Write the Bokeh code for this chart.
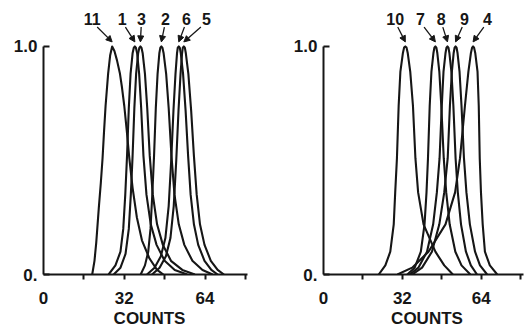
from bokeh.plotting import figure
from bokeh.layouts import row
from bokeh.models import FixedTicker, Arrow, NormalHead
from bokeh.core.properties import value
from bokeh.embed import file_html
from bokeh.resources import INLINE

# ---------------- data ----------------
# shared level profile for most curves (normalised counts)
# Left panel
c11_x = [19.3, 20.2, 20.9, 21.9, 22.7, 23.4, 24.0, 24.6, 25.6, 26.4, 27.2, 28.1, 29.1, 30.3, 31.1, 32.0, 33.0, 34.0, 35.3, 37.0, 39.0, 42.0, 45.0, 47.5]
c11_y = [0.0, 0.06, 0.14, 0.29, 0.40, 0.51, 0.63, 0.74, 0.88, 0.96, 1.0, 0.98, 0.94, 0.88, 0.82, 0.74, 0.63, 0.51, 0.38, 0.25, 0.15, 0.07, 0.02, 0.0]

c1_x = [25.8, 28.5, 30.5, 31.6, 32.4, 33.1, 33.8, 34.5, 35.3, 35.8, 36.2, 36.6, 37.1, 37.9, 38.7, 39.6, 40.8, 42.5, 44.8, 48.0, 52.0, 57.0]
c1_y = [0.0, 0.04, 0.10, 0.20, 0.35, 0.52, 0.73, 0.88, 0.97, 0.995, 1.0, 0.995, 0.97, 0.88, 0.73, 0.52, 0.35, 0.22, 0.13, 0.06, 0.02, 0.0]

c3_x = [27.8, 30.5, 32.5, 33.8, 34.6, 35.3, 36.0, 36.7, 37.5, 38.0, 38.4, 38.8, 39.3, 40.2, 41.1, 42.1, 43.3, 45.0, 47.3, 50.5, 55.0, 60.0]
c3_y = [0.0, 0.03, 0.09, 0.20, 0.35, 0.52, 0.73, 0.88, 0.97, 0.995, 1.0, 0.995, 0.97, 0.88, 0.73, 0.52, 0.35, 0.22, 0.13, 0.06, 0.02, 0.0]

c2_x = [38.5, 40.2, 41.5, 42.4, 43.1, 43.8, 44.5, 45.2, 45.9, 46.3, 46.7, 47.1, 47.6, 48.6, 49.6, 50.7, 51.9, 53.6, 55.8, 59.0, 63.0, 67.0]
c2_y = [0.0, 0.04, 0.10, 0.20, 0.35, 0.52, 0.73, 0.88, 0.97, 0.995, 1.0, 0.995, 0.97, 0.88, 0.73, 0.52, 0.35, 0.22, 0.13, 0.06, 0.02, 0.0]

c6_x = [41.0, 44.0, 46.5, 48.3, 49.6, 50.6, 51.5, 52.3, 52.9, 53.2, 53.6, 54.0, 54.4, 55.3, 56.3, 57.3, 58.3, 59.6, 61.3, 63.8, 66.5, 69.0]
c6_y = [0.0, 0.03, 0.08, 0.16, 0.30, 0.50, 0.72, 0.88, 0.97, 0.995, 1.0, 0.995, 0.97, 0.88, 0.72, 0.52, 0.35, 0.22, 0.13, 0.06, 0.02, 0.0]

c5_x = [43.0, 46.0, 48.5, 50.3, 51.6, 52.6, 53.5, 54.3, 54.9, 55.2, 55.6, 56.0, 56.4, 57.4, 58.5, 59.6, 60.7, 62.0, 63.8, 66.3, 69.0, 71.5]
c5_y = [0.0, 0.03, 0.08, 0.16, 0.30, 0.50, 0.72, 0.88, 0.97, 0.995, 1.0, 0.995, 0.97, 0.88, 0.72, 0.52, 0.35, 0.22, 0.13, 0.06, 0.02, 0.0]

# Right panel
c10_x = [22.4, 25.1, 27.1, 28.5, 29.1, 29.8, 30.5, 31.2, 32.2, 32.7, 33.2, 33.7, 34.2, 35.2, 36.3, 37.3, 38.4, 40.6, 45.4, 49.0, 52.5]
c10_y = [0.0, 0.04, 0.10, 0.22, 0.36, 0.51, 0.74, 0.89, 0.97, 0.995, 1.0, 0.995, 0.97, 0.89, 0.74, 0.51, 0.36, 0.22, 0.10, 0.04, 0.0]

c7_x = [34.0, 37.0, 39.5, 41.0, 41.8, 42.4, 43.1, 43.8, 44.6, 45.0, 45.4, 45.8, 46.2, 47.0, 47.8, 48.8, 49.8, 51.2, 53.5, 56.0, 59.6]
c7_y = [0.0, 0.03, 0.10, 0.22, 0.36, 0.51, 0.74, 0.89, 0.97, 0.995, 1.0, 0.995, 0.97, 0.89, 0.74, 0.51, 0.36, 0.22, 0.10, 0.04, 0.0]

c8_x = [35.0, 38.5, 42.0, 44.5, 46.0, 47.1, 48.0, 48.7, 49.5, 49.9, 50.3, 50.7, 51.1, 51.9, 52.7, 53.6, 54.5, 55.8, 57.8, 59.8, 62.3]
c8_y = [0.0, 0.03, 0.10, 0.22, 0.36, 0.51, 0.74, 0.89, 0.97, 0.995, 1.0, 0.995, 0.97, 0.89, 0.74, 0.51, 0.36, 0.22, 0.10, 0.04, 0.0]

c9_x = [36.0, 40.0, 44.0, 47.0, 49.0, 50.4, 51.3, 52.1, 52.8, 53.2, 53.6, 54.0, 54.4, 55.2, 56.0, 57.0, 58.0, 59.4, 61.5, 63.5, 66.4]
c9_y = [0.0, 0.03, 0.10, 0.22, 0.36, 0.51, 0.74, 0.89, 0.97, 0.995, 1.0, 0.995, 0.97, 0.89, 0.74, 0.51, 0.36, 0.22, 0.10, 0.04, 0.0]

c4_x = [30.0, 36.0, 42.6, 49.5, 53.4, 55.4, 57.4, 58.8, 59.8, 60.3, 60.7, 61.1, 61.6, 62.5, 63.0, 63.4, 63.9, 64.6, 65.5, 67.5, 70.5]
c4_y = [0.0, 0.03, 0.10, 0.22, 0.36, 0.51, 0.74, 0.89, 0.97, 0.995, 1.0, 0.995, 0.97, 0.89, 0.74, 0.51, 0.36, 0.22, 0.10, 0.04, 0.0]

left_ids = ["11", "1", "3", "2", "6", "5"]
right_ids = ["10", "7", "8", "9", "4"]

x_tick_labels = {0: "0", 32: "32", 64: "64"}
y_tick_labels = {0: "0.", 1: "1.0"}
x_title = "COUNTS"

# ---------------- layout of annotations (not data) ----------------
left_label_pos = [19.3, 31.2, 38.8, 48.3, 56.6, 64.6]
right_label_pos = [29.1, 39.3, 47.8, 57.2, 66.5]
LABEL_Y = 1.12

FONT = "Liberation Sans"
INK = "#161616"


def make_panel(curves, ids, label_pos, frame_w, border_l, border_r):
    p = figure(frame_width=frame_w, frame_height=270,
               min_border_left=border_l, min_border_right=border_r,
               min_border_top=4, min_border_bottom=55,
               x_range=(0, 84), y_range=(0, 1.184),
               output_backend="svg", toolbar_location=None,
               background_fill_color="white", border_fill_color="white")
    p.outline_line_color = None
    p.grid.visible = False

    for xs, ys in curves:
        p.line(xs, ys, line_color=INK, line_width=2.1, line_join="round")

    # labels + arrows
    p.text(x=label_pos, y=[LABEL_Y] * len(ids), text=ids,
           text_align="center", text_baseline="middle",
           text_font=value(FONT), text_font_style="bold",
           text_font_size="16px", text_color=INK)
    for (xs, ys), lx in zip(curves, label_pos):
        i = ys.index(max(ys))
        px = xs[i]
        sx = lx + 0.25 * (px - lx)
        p.add_layout(Arrow(end=NormalHead(size=6, fill_color=INK, line_color=INK, line_width=1),
                           x_start=sx, y_start=1.085, x_end=px, y_end=1.02,
                           line_color=INK, line_width=1.3))

    xa = p.xaxis[0]
    xa.ticker = FixedTicker(ticks=list(x_tick_labels.keys()), minor_ticks=[16, 32, 48, 64, 80])
    xa.major_label_overrides = x_tick_labels
    xa.bounds = (0, 81)
    xa.major_tick_in = 0
    xa.major_tick_out = 0
    xa.minor_tick_in = 0
    xa.minor_tick_out = 5
    xa.major_label_standoff = 12
    xa.axis_label = x_title
    xa.axis_label_standoff = 2

    ya = p.yaxis[0]
    ya.ticker = FixedTicker(ticks=list(y_tick_labels.keys()), minor_ticks=[])
    ya.major_label_overrides = y_tick_labels
    ya.bounds = (0, 1)
    ya.major_tick_in = 6
    ya.major_tick_out = 0
    ya.minor_tick_in = 0
    ya.minor_tick_out = 0
    ya.major_label_standoff = 6

    for ax in (xa, ya):
        ax.axis_line_color = INK
        ax.axis_line_width = 2
        ax.major_tick_line_color = INK
        ax.major_tick_line_width = 2
        ax.minor_tick_line_color = INK
        ax.minor_tick_line_width = 2
        ax.major_label_text_font = FONT
        ax.major_label_text_font_style = "bold"
        ax.major_label_text_font_size = "17px"
        ax.major_label_text_color = INK
        ax.axis_label_text_font = FONT
        ax.axis_label_text_font_style = "bold"
        ax.axis_label_text_font_size = "17px"
        ax.axis_label_text_color = INK
    return p


left_curves = [(c11_x, c11_y), (c1_x, c1_y), (c3_x, c3_y), (c2_x, c2_y), (c6_x, c6_y), (c5_x, c5_y)]
right_curves = [(c10_x, c10_y), (c7_x, c7_y), (c8_x, c8_y), (c9_x, c9_y), (c4_x, c4_y)]

p1 = make_panel(left_curves, left_ids, left_label_pos, 212, 43, 3)
p2 = make_panel(right_curves, right_ids, right_label_pos, 207, 65, 2)

layout = row(p1, p2)
open("out.html", "w").write(file_html(layout, INLINE))
